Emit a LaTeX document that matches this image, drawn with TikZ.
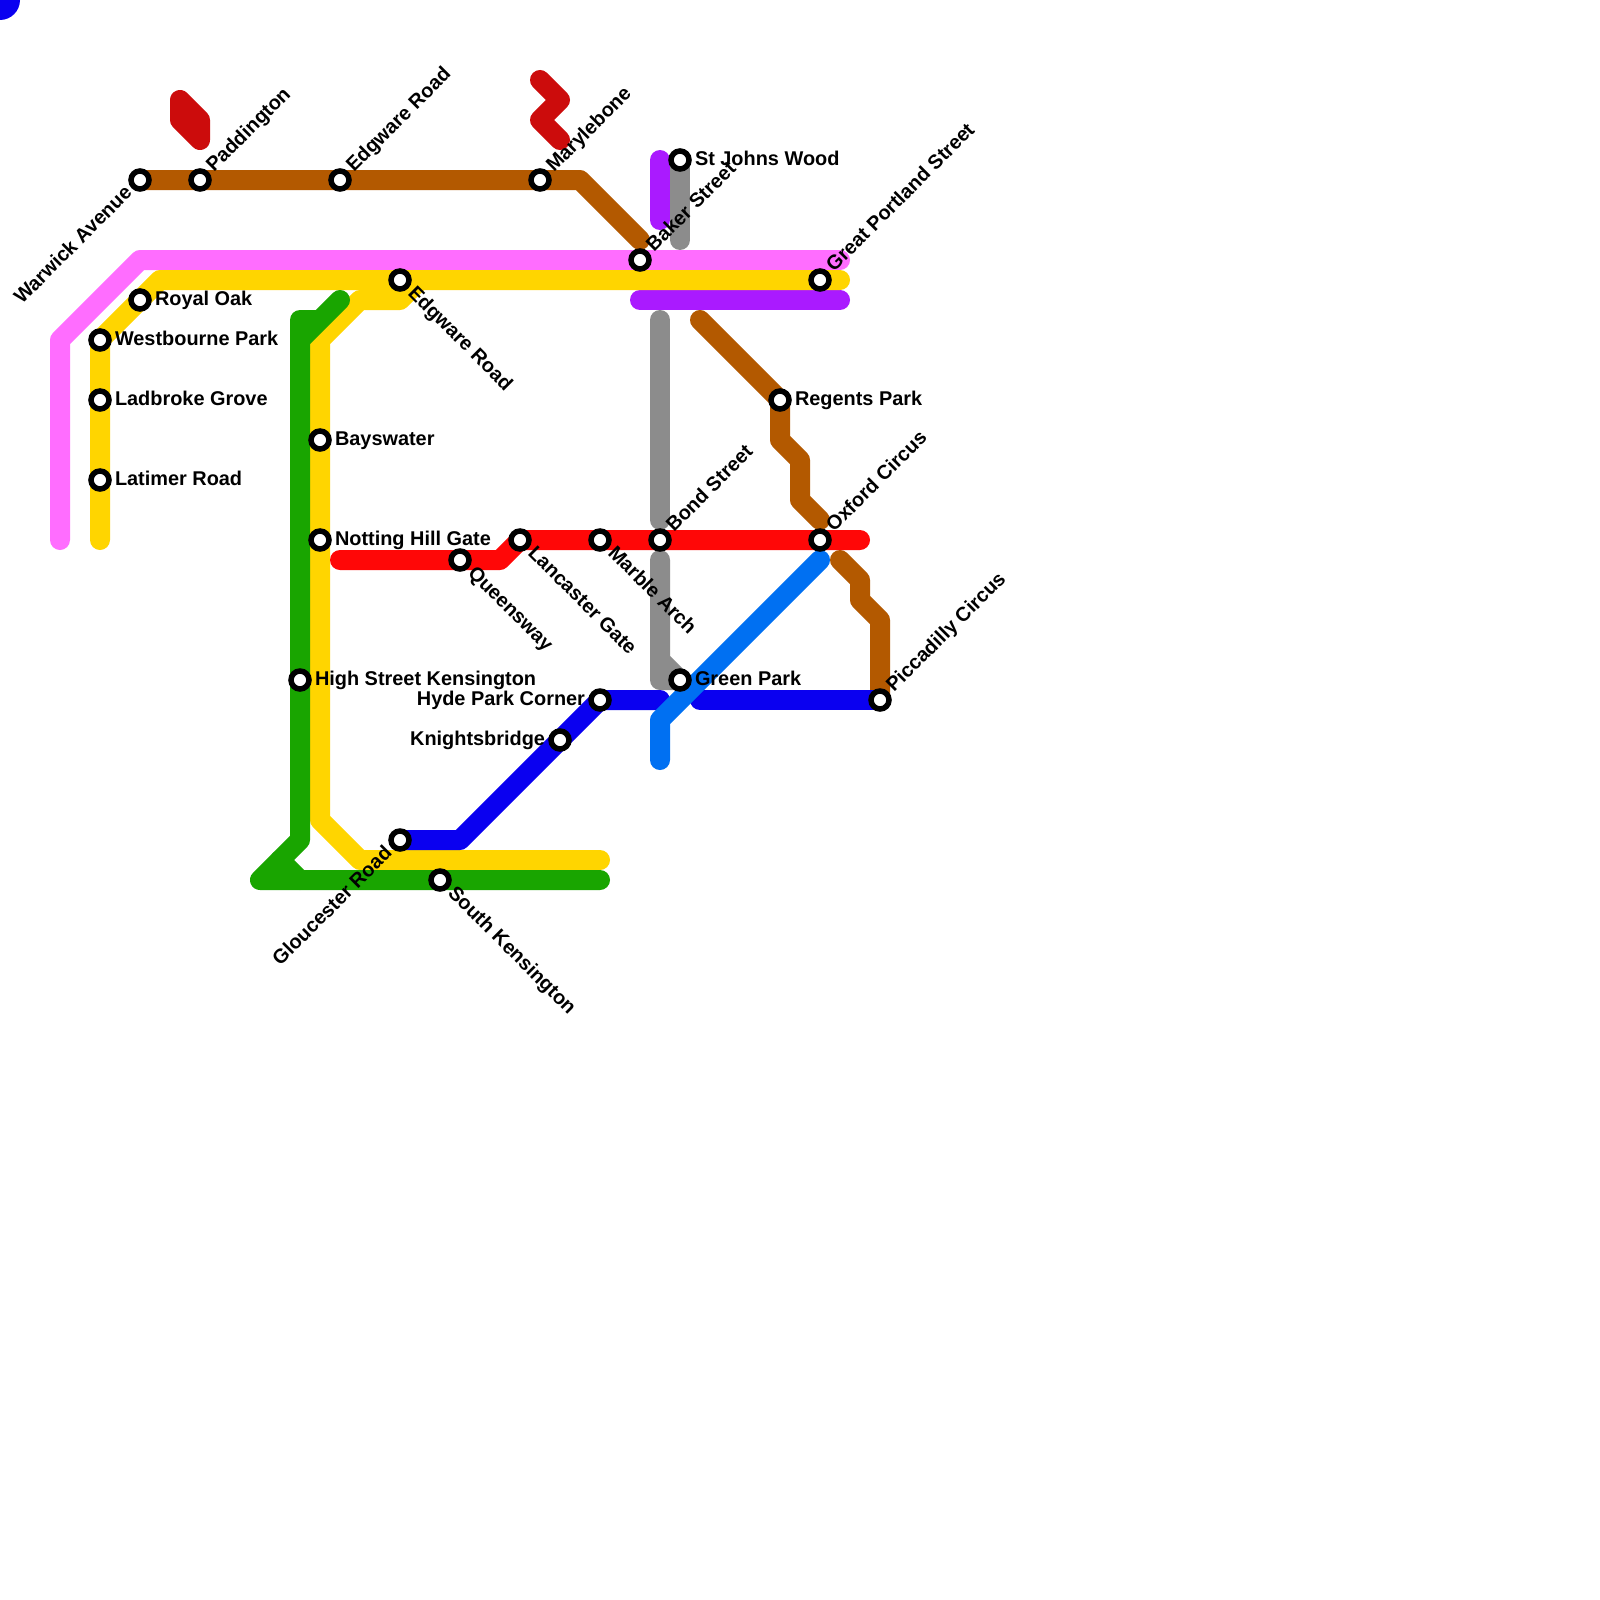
\documentclass[tikz,border=0pt]{standalone}
\usepackage{fontspec}
\setmainfont{Liberation Sans}
\usetikzlibrary{calc}
\pgfdeclarelayer{front}
\pgfsetlayers{main,front}
\definecolor{cbrown}{HTML}{B35900}
\definecolor{cpink}{HTML}{FF6DFF}
\definecolor{cyellow}{HTML}{FFD500}
\definecolor{cgreen}{HTML}{19A500}
\definecolor{cred}{HTML}{FF0707}
\definecolor{cdark}{HTML}{0A00F0}
\definecolor{clight}{HTML}{0070F2}
\definecolor{cgrey}{HTML}{8C8C8C}
\definecolor{cpurple}{HTML}{AA1AFF}
\definecolor{cmaroon}{HTML}{CC0C0C}
\tikzset{
  x=1pt,y=-1pt,
  tube/.style={line width=20pt,line cap=round,line join=round},
  stn/.style={circle,draw=black,fill=white,line width=5.5pt,minimum size=18pt,inner sep=0pt,outer sep=0pt},
  lab/.style={inner sep=0pt,outer sep=0pt,font=\bfseries\fontsize{19.9}{24}\selectfont,text=black},
  labR/.style={lab,anchor=base west},
  labL/.style={lab,anchor=base east},
  labUR/.style={lab,anchor=base west,rotate=45},
  labUL/.style={lab,anchor=base east,rotate=45},
  labDR/.style={lab,anchor=base west,rotate=-45},
}
\newcommand{\stR}[3]{\node[stn] (#1) at (#2) {};\node[labR] (#1-label) at ($(#2)+(15,5)$) {#3};}
\newcommand{\stL}[3]{\node[stn] (#1) at (#2) {};\node[labL] (#1-label) at ($(#2)+(-15,5)$) {#3};}
\newcommand{\stUR}[3]{\node[stn] (#1) at (#2) {};\node[labUR] (#1-label) at ($(#2)+(14.1,-7.1)$) {#3};}
\newcommand{\stUL}[3]{\node[stn] (#1) at (#2) {};\node[labUL] (#1-label) at ($(#2)+(-7.1,14.1)$) {#3};}
\newcommand{\stDR}[3]{\node[stn] (#1) at (#2) {};\node[labDR] (#1-label) at ($(#2)+(7.1,14.1)$) {#3};}
\begin{document}
\begin{tikzpicture}
\fill[white] (0,0) rectangle (1600,1600);
\useasboundingbox (0,0) rectangle (1600,1600);
\begin{scope}
\clip (0,0) rectangle (1600,1600);
\fill[cdark] (0,0) circle[radius=20];
\end{scope}
\begin{pgfonlayer}{front}
\stUL{warwick}{140,180}{Warwick Avenue}
\stUR{paddington}{200,180}{Paddington}
\stUR{edgwareA}{340,180}{Edgware Road}
\stUR{marylebone}{540,180}{Marylebone}
\stUR{baker}{640,260}{Baker Street}
\stR{stjohns}{680,160}{St Johns Wood}
\stUR{portland}{820,280}{Great Portland Street}
\stR{royaloak}{140,300}{Royal Oak}
\stR{westbourne}{100,340}{Westbourne Park}
\stR{ladbroke}{100,400}{Ladbroke Grove}
\stR{latimer}{100,480}{Latimer Road}
\stDR{edgwareB}{400,280}{Edgware Road}
\stR{bayswater}{320,440}{Bayswater}
\stR{notting}{320,540}{Notting Hill Gate}
\stR{highst}{300,680}{High Street Kensington}
\stDR{queensway}{460,560}{Queensway}
\stDR{lancaster}{520,540}{Lancaster Gate}
\stDR{marble}{600,540}{Marble Arch}
\stUR{bond}{660,540}{Bond Street}
\stUR{oxford}{820,540}{Oxford Circus}
\stR{regents}{780,400}{Regents Park}
\stR{green}{680,680}{Green Park}
\stL{hyde}{600,700}{Hyde Park Corner}
\stL{knights}{560,740}{Knightsbridge}
\stUL{gloucester}{400,840}{Gloucester Road}
\stDR{southken}{440,880}{South Kensington}
\stUR{piccadilly}{880,700}{Piccadilly Circus}
\end{pgfonlayer}
% free ends
\coordinate (mA) at (180,100);
\coordinate (mB) at (540,80);
\coordinate (mC) at (560,140);
\coordinate (brEndA) at (640,240);
\coordinate (brStartB) at (700,320);
\coordinate (brEndB) at (820,520);
\coordinate (brStartC) at (840,560);
\coordinate (gyEndA) at (680,240);
\coordinate (gyStartB) at (660,320);
\coordinate (gyEndB) at (660,520);
\coordinate (gyStartC) at (660,560);
\coordinate (ppA) at (660,160);
\coordinate (ppB) at (660,220);
\coordinate (ppC) at (640,300);
\coordinate (ppD) at (840,300);
\coordinate (pkA) at (60,540);
\coordinate (pkB) at (840,260);
\coordinate (ylA) at (100,540);
\coordinate (ylB) at (840,280);
\coordinate (ylC) at (600,860);
\coordinate (gnA) at (320,320);
\coordinate (gnB) at (340,300);
\coordinate (gnC) at (600,880);
\coordinate (rdA) at (340,560);
\coordinate (rdB) at (860,540);
\coordinate (blA) at (660,700);
\coordinate (blB) at (700,700);
\coordinate (lbA) at (660,760);
\coordinate (lbB) at (820,560);
% lines
\draw[tube,cmaroon,fill=cmaroon] (mA) -- (200,120) -- (200,140) -- (180,120) -- cycle;
\draw[tube,cmaroon] (mB) -- (560,100) -- (540,120) -- (mC);
\draw[tube,cbrown] (warwick.center) -- (580,180) -- (brEndA);
\draw[tube,cbrown] (brStartB) -- (regents.center) -- (780,440) -- (800,460) -- (800,500) -- (brEndB);
\draw[tube,cbrown] (brStartC) -- (860,580) -- (860,600) -- (880,620) -- (piccadilly.center);
\draw[tube,cgrey] (stjohns.center) -- (gyEndA);
\draw[tube,cgrey] (gyStartB) -- (gyEndB);
\draw[tube,cgrey] (gyStartC) -- (660,680) -- (green.center) -- (660,660);
\draw[tube,cpurple] (ppA) -- (ppB);
\draw[tube,cpurple] (ppC) -- (ppD);
\draw[tube,cpink] (pkA) -- (60,340) -- (140,260) -- (pkB);
\draw[tube,cyellow] (ylA) -- (100,340) -- (160,280) -- (ylB);
\draw[tube,cyellow] (420,280) -- (400,300) -- (360,300) -- (320,340) -- (320,820) -- (360,860) -- (ylC);
\draw[tube,cgreen] (gnB) -- (300,340) -- (300,320) -- (gnA);
\draw[tube,cgreen] (300,340) -- (300,840) -- (260,880) -- (gnC);
\draw[tube,cgreen] (280,860) -- (300,880);
\draw[tube,cred] (rdA) -- (500,560) -- (520,540) -- (rdB);
\draw[tube,cdark] (gloucester.center) -- (460,840) -- (hyde.center) -- (blA);
\draw[tube,cdark] (blB) -- (piccadilly.center);
\draw[tube,clight] (lbA) -- (660,720) -- (lbB);
\end{tikzpicture}
\end{document}
